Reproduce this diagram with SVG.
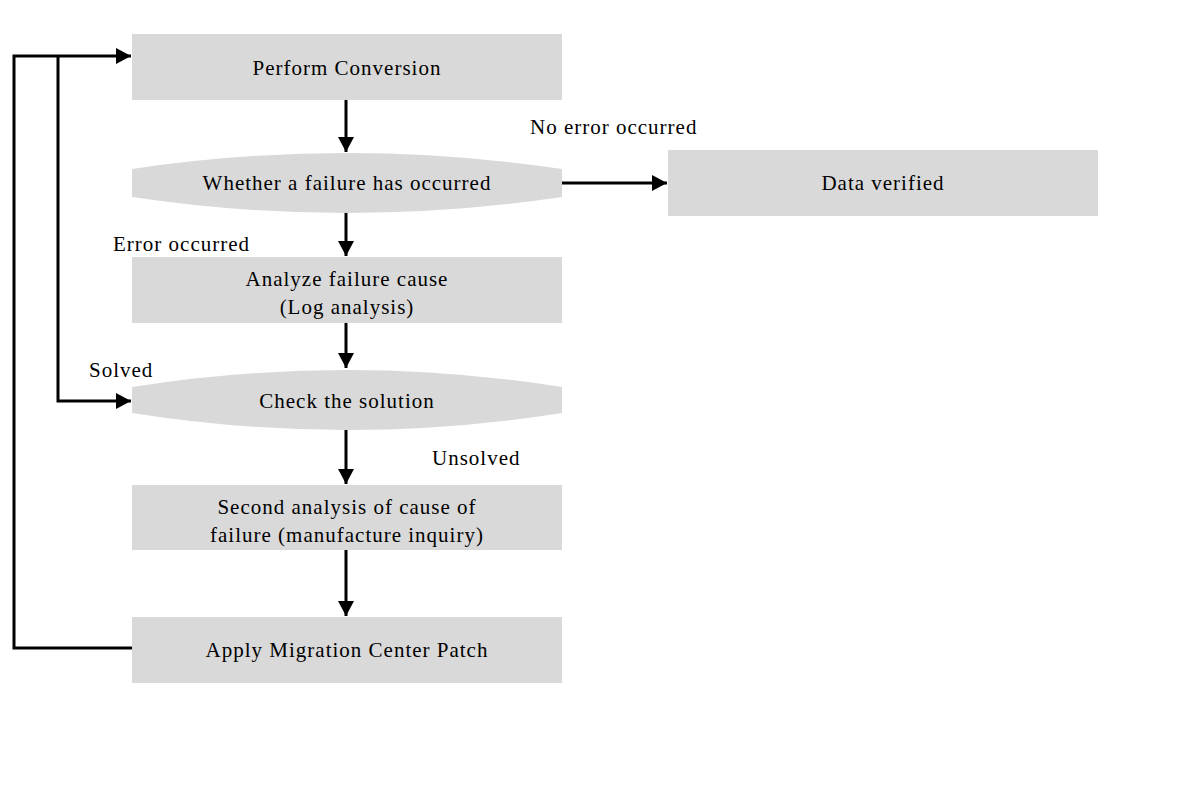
<svg xmlns="http://www.w3.org/2000/svg" width="1200" height="800" viewBox="0 0 1200 800">
<style>
.box{fill:#d9d9d9;}
.t{font-family:"Liberation Serif","DejaVu Serif",serif;font-size:21px;letter-spacing:1px;fill:#000;text-anchor:middle;}
.l{font-family:"Liberation Serif","DejaVu Serif",serif;font-size:21px;letter-spacing:1px;fill:#000;}
.c{fill:none;stroke:#000;stroke-width:3;}
</style>
<defs>
<marker id="ah" markerUnits="userSpaceOnUse" markerWidth="16" markerHeight="16" refX="15" refY="8" orient="auto">
<path d="M0,0 L15,8 L0,16 Z" fill="#000"/>
</marker>
</defs>
<rect width="1200" height="800" fill="#fff"/>
<g id="connectors">
<line class="c" x1="346" y1="100" x2="346" y2="152" marker-end="url(#ah)"/>
<line class="c" x1="346" y1="213" x2="346" y2="256" marker-end="url(#ah)"/>
<line class="c" x1="346" y1="323" x2="346" y2="368" marker-end="url(#ah)"/>
<line class="c" x1="346" y1="430" x2="346" y2="484" marker-end="url(#ah)"/>
<line class="c" x1="346" y1="550" x2="346" y2="616" marker-end="url(#ah)"/>
<line class="c" x1="562" y1="183" x2="667" y2="183" marker-end="url(#ah)"/>
<polyline class="c" points="132,648 14,648 14,56 131,56" marker-end="url(#ah)"/>
<polyline class="c" points="58,56 58,401 131,401" marker-end="url(#ah)"/>
</g>
<g id="perform">
<rect class="box" x="132" y="34" width="430" height="66"/>
<text class="t" x="347" y="75">Perform Conversion</text>
</g>
<g id="decision1">
<path class="box" d="M132,169 Q347,137 562,169 L562,197 Q347,229 132,197 Z"/>
<text class="t" x="347" y="190">Whether a failure has occurred</text>
</g>
<g id="verified">
<rect class="box" x="668" y="150" width="430" height="66"/>
<text class="t" x="883" y="190">Data verified</text>
</g>
<g id="analyze">
<rect class="box" x="132" y="257" width="430" height="66"/>
<text class="t" x="347" y="286">Analyze failure cause</text>
<text class="t" x="347" y="314">(Log analysis)</text>
</g>
<g id="decision2">
<path class="box" d="M132,387 Q347,353 562,387 L562,413 Q347,447 132,413 Z"/>
<text class="t" x="347" y="408">Check the solution</text>
</g>
<g id="second">
<rect class="box" x="132" y="485" width="430" height="65"/>
<text class="t" x="347" y="514">Second analysis of cause of</text>
<text class="t" x="347" y="542">failure (manufacture inquiry)</text>
</g>
<g id="patch">
<rect class="box" x="132" y="617" width="430" height="66"/>
<text class="t" x="347" y="657">Apply Migration Center Patch</text>
</g>
<g id="labels">
<text class="l" x="530" y="134">No error occurred</text>
<text class="l" x="113" y="251">Error occurred</text>
<text class="l" x="89" y="377">Solved</text>
<text class="l" x="432" y="465">Unsolved</text>
</g>
</svg>
